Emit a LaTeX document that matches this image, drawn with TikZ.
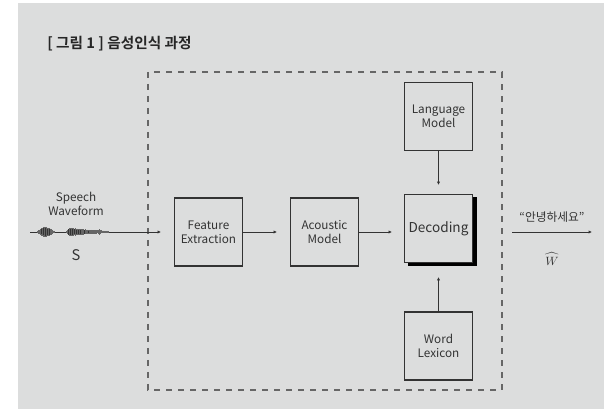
\documentclass[tikz,border=0pt]{standalone}
\usepackage{fontspec}
\setmainfont{Noto Sans CJK KR}
\newfontfamily\krbold{Noto Sans CJK KR Bold}
\usetikzlibrary{arrows.meta}
\definecolor{bggray}{HTML}{DCDDDD}
\definecolor{linec}{HTML}{333333}
\definecolor{dashc}{HTML}{666666}
\tikzset{
  blk/.style={draw=linec, line width=0.8pt, fill=bggray, minimum width=68*0.75pt, minimum height=68*0.75pt, inner sep=0pt, align=center, font=\fontsize{8.8}{10.6}\selectfont, text=linec},
  conn/.style={draw=linec, line width=0.7pt, -{Latex[length=2.5pt,width=2.5pt]}},
  lbl/.style={align=center, text=linec, inner sep=0pt, font=\fontsize{8.8}{10.6}\selectfont}
}
\begin{document}
\begin{tikzpicture}[x=0.75pt,y=-0.75pt]
\useasboundingbox (0,0) rectangle (604,409);
\fill[white] (0,0) rectangle (604,409);
\fill[bggray] (18,3) rectangle (604,409);
\node[anchor=west, inner sep=0pt, font=\krbold\fontsize{11}{13}\selectfont, text=black!85] (title) at (47,44) {[ 그림 1 ] 음성인식 과정};
\draw[dashc, line width=0.9pt, dash pattern=on 4.5pt off 4.5pt] (148,72) rectangle (502,390);
% boxes
\node[blk] (fe) at (208.5,232) {Feature\\Extraction};
\node[blk] (am) at (324.5,232) {Acoustic\\Model};
\fill[black] (407.5,197.5) rectangle (476.5,266.5);
\node[blk, font=\fontsize{10.2}{12}\selectfont] (dec) at (438.5,228.5) {Decoding};
\node[blk] (lm) at (438.5,116.5) {Language\\Model};
\node[blk] (wl) at (438.5,346) {Word\\Lexicon};
% waveform
\coordinate (ws) at (30,232);
\coordinate (we) at (120,232);
\draw[linec, line width=0.6pt] (ws) -- (we);
\foreach \x/\a in {37/1.0,38/1.6,39/2.2,40/3,41/3.6,42/4.2,43/4.8,44/5,45/4.6,46/5,47/4.4,48/3.8,49/4.2,50/3.4,51/2.6,52/2,53/1.4,54/1,
  66/1,67/2.2,68/3.2,69/4,70/3.8,71/4.2,72/3.6,73/3.9,74/3.4,75/3.7,76/3.2,77/3.4,78/2.9,79/3.1,80/2.8,81/2.9,82/2.6,83/2.7,84/2.4,85/2.5,86/2.2,87/2.3,88/2,89/2.1,90/1.9,91/2,92/1.8,93/1.7,94/1.9,95/1.6,96/1.7,97/1.5,98/1.8,99/2.6,100/1.6,101/1.5,102/1.4,103/1.3,104/1.2,105/1.1,106/1,107/0.9,108/0.8}
  \draw[linec!70!bggray, line width=0.5pt] (\x,232-\a) -- (\x,232+\a);
\foreach \x/\a in {41/2.5,43/3.5,45/3.8,47/3,49/2.6,68/2.6,70/3,72/2.8,74/2.5,76/2.2,78/2,80/1.8,84/1.6,88/1.4}
  \draw[linec, line width=0.5pt] (\x,232-\a) -- (\x,232+\a);
\node[lbl] (sw) at (76,204) {Speech\\Waveform};
\node[lbl, font=\fontsize{11}{13}\selectfont] (s) at (76,255) {S};
\coordinate (out) at (592,232);
\coordinate (outs) at (512,232);
% connectors
\draw[conn] (we) -- ([xshift=-13*0.75pt]fe.west);
\draw[conn] (fe.east) -- ([xshift=-13*0.75pt]am.west);
\draw[conn] (am.east |- 0,232) -- ([xshift=-12*0.75pt]dec.west |- 0,232);
\draw[conn] (lm.south) -- ([yshift=9*0.75pt]dec.north);
\draw[conn] (wl.north) -- ([yshift=-14*0.75pt]dec.south);
\draw[conn] (outs) -- (out);
\node[lbl] (hello) at (552,217) {“안녕하세요”};
\node[lbl, font=\fontsize{9.5}{11}\selectfont] (what) at (552,259) {$\widehat{W}$};
\end{tikzpicture}
\end{document}
